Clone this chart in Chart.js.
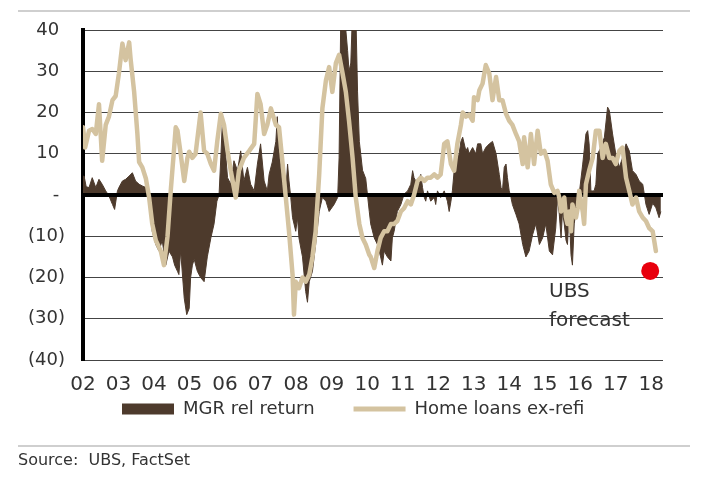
<!DOCTYPE html>
<html><head><meta charset="utf-8">
<script src="https://cdn.jsdelivr.net/npm/chart.js@4.4.1/dist/chart.umd.min.js"></script>
<style>
html,body{margin:0;padding:0;background:#fff;}
#wrap{position:relative;width:705px;height:484px;overflow:hidden;background:#fff;}
#c{position:absolute;left:0;top:0;}
.rule{position:absolute;left:18px;width:672px;height:2px;background:#cfcfcf;}
#src{position:absolute;left:18px;top:450px;font:16px/19px "DejaVu Sans";color:#333;white-space:pre;}
</style></head><body>
<div id="wrap">
<div class="rule" style="top:10px"></div>
<canvas id="c" width="705" height="484"></canvas>
<div class="rule" style="top:445px"></div>
<div id="src">Source:  UBS, FactSet</div>
</div>
<script>
// ---- data ----
const seriesNames = ['MGR rel return', 'Home loans ex-refi'];
const xTickYears = [2002,2003,2004,2005,2006,2007,2008,2009,2010,2011,2012,2013,2014,2015,2016,2017,2018];
const xTickLabels = ['02','03','04','05','06','07','08','09','10','11','12','13','14','15','16','17','18'];
const yTickValues = [40,30,20,10,0,-10,-20,-30,-40];
const yTickLabels = ['40','30','20','10','-','(10)','(20)','(30)','(40)'];

const mgrYears = [2002.00,2002.03,2002.09,2002.17,2002.26,2002.36,2002.45,2002.54,2002.64,2002.73,2002.83,2002.89,2002.97,
2003.01,2003.11,2003.20,2003.30,2003.39,2003.48,2003.58,2003.67,2003.77,2003.86,2003.95,
2004.05,2004.14,2004.23,2004.33,2004.42,2004.52,2004.58,2004.66,2004.70,2004.75,2004.85,2004.92,2004.99,
2005.03,2005.08,2005.13,2005.22,2005.31,2005.41,2005.50,2005.60,2005.69,2005.77,2005.83,2005.88,2005.92,2005.97,
2006.07,2006.16,2006.25,2006.35,2006.44,2006.53,2006.63,2006.72,2006.82,2006.91,
2007.00,2007.10,2007.19,2007.24,2007.33,2007.43,2007.47,2007.52,2007.62,2007.71,2007.76,2007.80,2007.85,2007.90,2007.99,
2008.04,2008.08,2008.18,2008.27,2008.32,2008.37,2008.46,2008.55,2008.65,2008.74,2008.84,2008.93,
2009.07,2009.17,2009.21,2009.26,2009.35,2009.45,2009.49,2009.54,2009.59,2009.68,2009.73,2009.78,2009.87,2009.96,
2010.01,2010.06,2010.10,2010.20,2010.29,2010.38,2010.43,2010.48,2010.57,2010.67,2010.71,2010.76,2010.85,2010.95,
2011.04,2011.14,2011.23,2011.28,2011.32,2011.42,2011.51,2011.56,2011.61,2011.65,2011.70,2011.79,2011.89,2011.93,2011.98,
2012.07,2012.17,2012.26,2012.31,2012.36,2012.40,2012.45,2012.54,2012.59,2012.64,2012.69,2012.78,2012.83,2012.87,2012.97,
2013.06,2013.11,2013.20,2013.25,2013.34,2013.44,2013.53,2013.63,2013.72,2013.77,2013.81,2013.86,2013.91,2013.95,
2014.00,2014.05,2014.09,2014.19,2014.28,2014.38,2014.47,2014.56,2014.66,2014.75,2014.85,2014.94,
2015.03,2015.13,2015.22,2015.31,2015.36,2015.41,2015.46,2015.50,2015.55,2015.60,2015.64,2015.69,2015.74,2015.78,2015.83,2015.88,2015.93,2015.97,
2016.07,2016.16,2016.21,2016.25,2016.30,2016.35,2016.39,2016.44,2016.49,2016.58,2016.68,2016.77,2016.82,2016.91,
2017.00,2017.10,2017.19,2017.29,2017.38,2017.47,2017.57,2017.66,2017.76,2017.85,2017.94,
2018.04,2018.13,2018.22,2018.27];
const mgrValues = [4.5,4.6,2.0,1.8,4.2,1.8,3.8,2.6,1.0,-0.2,-2.3,-3.5,1.0,
1.8,3.4,3.8,4.6,5.4,3.4,2.6,2.2,1.8,-0.6,-8.8,
-12,-13.6,-11,-17,-13.6,-15,-17,-18.5,-19.3,-13.6,-25,-29,-27.5,
-20,-17,-15.6,-18.5,-20,-21,-15,-10.4,-7,-1.5,0,9,17,14.6,
4.2,2.6,8.3,5.9,10.7,3.4,6.7,2.6,1.0,7.5,
12.4,3.4,1.0,5,8,13,19,10.7,2.6,1.0,7.5,3.4,-0.6,-5.5,-8.8,
-5.5,-10.4,-15,-23.4,-26,-21,-18.5,-12,-4,-0.6,-1.5,-4,
-2.3,-0.6,9,45,45,35,30,32,45,45,25,13,6,4,
0,-4,-7,-10.4,-12,-15,-17,-13.6,-15,-16,-10.4,-8.8,-4,-2.3,
0.2,1.0,2.6,5.9,4.2,2.6,5,1.8,-0.6,-1.5,1.0,-1.5,-0.6,-2.3,1.0,
-0.6,1.0,-1.5,-4,-1.5,1.0,5.9,9,10,13,14,10.7,11.5,10,11.5,
10,12.4,12.4,10,11.5,12.4,13,10,5,1.8,1.0,6.7,7.5,4.2,
1.0,-0.6,-2.3,-4.7,-7,-12,-15,-13.6,-9.6,-7,-12,-10.4,
-7,-13.6,-14.5,-8,-0.6,-4.7,-10.4,-4,-7,-11,-12,-4,-14.5,-17,-7,-4,-1.5,0.2,
7.5,14.8,15.6,12.4,1.0,1.0,1.0,2.6,10,11.5,14,21.3,20.5,14.8,
10,6.7,9,12.4,10.7,5.9,5,3.4,2.6,-2.3,-4.7,
-2,-3.1,-5.5,-4];

const homeYears = [2002.00,2002.06,2002.17,2002.26,2002.36,2002.45,2002.54,2002.64,2002.73,2002.83,2002.92,
2003.01,2003.11,2003.20,2003.30,2003.34,2003.44,2003.53,2003.58,2003.67,2003.77,2003.86,2003.95,
2004.05,2004.19,2004.28,2004.38,2004.47,2004.56,2004.61,2004.66,2004.75,2004.85,2004.94,2004.99,
2005.08,2005.17,2005.31,2005.41,2005.50,2005.60,2005.69,2005.78,2005.88,2005.97,
2006.07,2006.16,2006.30,2006.39,2006.53,2006.68,2006.82,2006.91,
2007.00,2007.10,2007.19,2007.29,2007.43,2007.52,2007.62,2007.71,2007.80,2007.90,2007.94,2007.99,
2008.08,2008.18,2008.27,2008.37,2008.46,2008.55,2008.65,2008.74,2008.84,2008.93,
2009.02,2009.12,2009.21,2009.31,2009.40,2009.49,2009.59,2009.68,2009.78,2009.87,2009.96,
2010.06,2010.10,2010.20,2010.29,2010.38,2010.48,2010.57,2010.67,2010.76,2010.85,2010.95,
2011.04,2011.14,2011.23,2011.32,2011.42,2011.51,2011.61,2011.70,2011.79,2011.89,2011.98,
2012.07,2012.17,2012.26,2012.36,2012.45,2012.54,2012.64,2012.69,2012.78,2012.87,2012.97,
2013.01,2013.11,2013.16,2013.25,2013.34,2013.44,2013.53,2013.63,2013.72,2013.81,2013.91,
2014.00,2014.09,2014.19,2014.28,2014.38,2014.42,2014.52,2014.61,2014.70,2014.80,2014.89,2014.99,
2015.08,2015.17,2015.27,2015.36,2015.41,2015.46,2015.55,2015.60,2015.64,2015.69,2015.74,2015.78,2015.83,2015.88,2015.93,2015.97,
2016.07,2016.11,2016.16,2016.25,2016.35,2016.44,2016.54,2016.63,2016.72,2016.82,2016.91,
2017.00,2017.10,2017.19,2017.29,2017.38,2017.47,2017.57,2017.66,2017.76,2017.85,2017.94,
2018.04,2018.13];
const homeValues = [16.4,11.5,15.6,16.0,14.8,22.0,8.3,17,19,23,24,
29.4,36.7,32.7,37,33,25,15,8,6.7,4,-0.5,-7,
-11,-13.6,-17,-10,1,10.7,16.4,15.6,10,3.4,9,10.5,
9,10,20,10.7,10,7.5,5.9,13,19.7,17,
10.7,5.9,-0.6,5.9,9,10.7,12.4,24.5,
22,14.8,17,21,17,16.4,7.5,-0.6,-8.8,-19.3,-29,-21,
-22.6,-20,-21,-19.3,-15,-8.8,5,21,27.8,31,
25,32,34,29.4,25,18,9,-0.6,-7,-10.4,-12,
-14.5,-15,-17.7,-13.6,-10.4,-8.8,-8.8,-7,-7,-6.3,-4,
-3.2,-1.5,-2.3,0,3.4,4.2,3.4,4.2,4.2,5,4.2,
5,12.4,13,7.5,5.9,12.4,17,20,19,19.5,18,
23.7,23,25.4,27,31.5,29.4,23,28.6,23,23,19.7,
18,17,14.8,13,7.5,14,6.7,14.8,7.5,15.6,10,10.7,
8.3,2.6,0.5,1,-0.6,-4,-0.6,-5.5,-7,-4,-8.8,-2.3,-4,-5.5,-3.1,1,
-4,-7,2.6,5.9,9,15.6,15.6,9,12.4,9,9,
7.5,10.7,11.5,4.2,1,-2.3,-0.6,-4,-5.5,-6.3,-8,
-8.8,-13.6];

const forecastYear = [2017.97];
const forecastValue = [-18.4];
const noteLines = ['UBS', 'forecast'];
const noteAt = [2015.12, -24.8];

// ---- styles ----
const BROWN = '#4d3a2c';
const TAN = '#d4c3a0';
const RED = '#e8000d';
const TEXT = '#333333';
Chart.defaults.font.family = '"DejaVu Sans"';
Chart.defaults.color = TEXT;

const zeroLine = {
  id: 'zeroLine',
  afterDatasetDraw(chart, args) {
    if (args.index !== 0) return;
    const {ctx, chartArea, scales: {y}} = chart;
    const py = y.getPixelForValue(0);
    ctx.save();
    ctx.strokeStyle = '#000';
    ctx.lineWidth = 4;
    ctx.beginPath();
    ctx.moveTo(chartArea.left, py);
    ctx.lineTo(chartArea.right, py);
    ctx.stroke();
    ctx.restore();
  }
};
const note = {
  id: 'note',
  afterDatasetsDraw(chart) {
    const {ctx, scales: {x, y}} = chart;
    ctx.save();
    ctx.font = '20px "DejaVu Sans"';
    ctx.fillStyle = TEXT;
    ctx.textAlign = 'left';
    ctx.textBaseline = 'alphabetic';
    const px = x.getPixelForValue(noteAt[0]);
    const py = y.getPixelForValue(noteAt[1]);
    noteLines.forEach((t, i) => ctx.fillText(t, px, py + i * 29));
    ctx.restore();
  }
};

new Chart(document.getElementById('c'), {
  type: 'line',
  data: {
    datasets: [
      { label: seriesNames[0], data: mgrYears.map((x, i) => ({x, y: mgrValues[i]})),
        backgroundColor: BROWN, borderColor: BROWN, borderWidth: 1, fill: 'origin',
        pointRadius: 0, tension: 0, order: 2 },
      { label: seriesNames[1], data: homeYears.map((x, i) => ({x, y: homeValues[i]})),
        borderColor: TAN, backgroundColor: TAN, borderWidth: 4.5, fill: false,
        pointRadius: 0, tension: 0, borderJoinStyle: 'round', borderCapStyle: 'round', order: 1 },
      { label: 'UBS forecast', data: forecastYear.map((x, i) => ({x, y: forecastValue[i]})),
        showLine: false, pointRadius: 9, pointBackgroundColor: RED, pointBorderWidth: 0,
        borderColor: RED, backgroundColor: RED, order: 0, clip: false }
    ]
  },
  options: {
    responsive: false,
    animation: false,
    events: [],
    layout: { padding: { left: 0, right: 42, top: 30, bottom: 56 } },
    scales: {
      x: {
        type: 'linear', min: 2002, max: 2018.33,
        afterBuildTicks: s => { s.ticks = xTickYears.map(v => ({value: v})); },
        afterFit: s => { s.height = 1; },
        ticks: {
          callback: v => { const i = xTickYears.indexOf(v); return i >= 0 ? xTickLabels[i] : ''; },
          font: { size: 20 }, color: TEXT, mirror: true, padding: -37, maxRotation: 0, autoSkip: false
        },
        grid: { display: false, drawTicks: false },
        border: { display: false }
      },
      y: {
        min: -40, max: 40,
        afterBuildTicks: s => { s.ticks = yTickValues.map(v => ({value: v})); },
        afterFit: s => { s.width = 83; },
        ticks: {
          callback: v => { const i = yTickValues.indexOf(v); const l = i >= 0 ? yTickLabels[i] : ''; return l.endsWith(')') ? l : l + '\u2008'; },
          font: { size: 18 }, color: TEXT, padding: 18, autoSkip: false
        },
        grid: { color: '#444', lineWidth: 1, drawTicks: false },
        border: { color: '#000', width: 4 }
      }
    },
    plugins: {
      tooltip: { enabled: false },
      legend: {
        position: 'bottom',
        fullSize: false,
        align: 'start',
        labels: {
          usePointStyle: true, pointStyleWidth: 52, boxWidth: 52, boxHeight: 11,
          padding: 39, color: TEXT, font: { size: 18 },
          generateLabels: () => [
            { text: seriesNames[0], fillStyle: BROWN, strokeStyle: BROWN, lineWidth: 0, pointStyle: 'rect', hidden: false, datasetIndex: 0, fontColor: TEXT },
            { text: seriesNames[1], fillStyle: TAN, strokeStyle: TAN, lineWidth: 5, pointStyle: 'line', hidden: false, datasetIndex: 1, fontColor: TEXT }
          ]
        }
      }
    }
  },
  plugins: [zeroLine, note]
});
</script>
</body></html>
